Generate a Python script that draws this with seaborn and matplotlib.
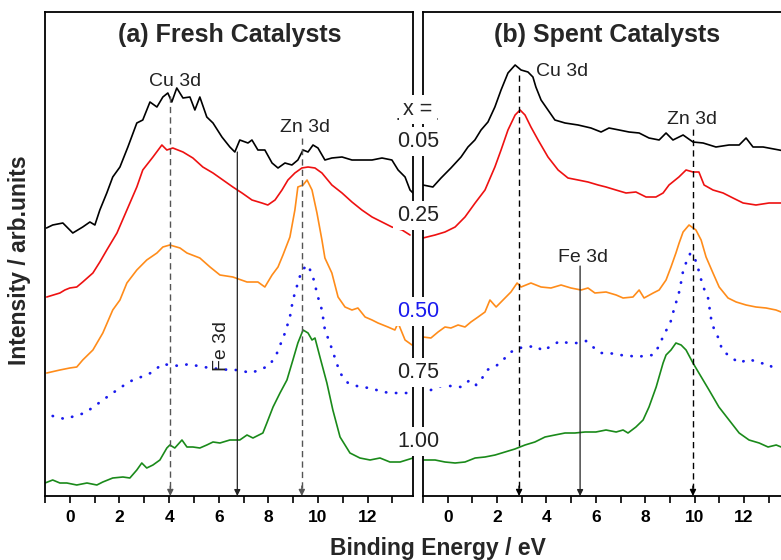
import matplotlib
matplotlib.use("Agg")
import matplotlib.pyplot as plt
from matplotlib.ticker import MultipleLocator
from matplotlib.lines import Line2D
import seaborn as sns

# composition x of each spectrum, top to bottom
comp_labels = ["0.05", "0.25", "0.50", "0.75", "1.00"]
comp_colors = ["black", "#ee1111", "#ff8c1a", "#1a1aee", "#1a8a1a"]

# (a) fresh catalysts: binding energy (eV) and stacked intensity (arb. units)
fresh_005_be = [-0.94, -0.69, -0.28, 0.12, 0.52, 0.81, 1.01, 1.21, 1.49, 1.73, 2.02, 2.34, 2.70, 2.94, 3.23,
                3.51, 3.75, 3.95, 4.11, 4.31, 4.56, 4.84, 5.04, 5.24, 5.52, 5.77, 6.13, 6.45, 6.65, 6.85, 7.18,
                7.34, 7.58, 7.86, 8.15, 8.39, 8.67, 8.95, 9.19, 9.40, 9.60, 9.80, 10.0, 10.28, 10.56, 10.97,
                11.37, 11.77, 12.18, 12.58, 12.98, 13.23, 13.51, 13.71, 13.83]
fresh_005_int = [268, 271, 273, 263, 269, 274, 271, 286, 303, 319, 329, 349, 373, 376, 394, 389, 399, 403, 394,
                 408, 398, 399, 386, 399, 379, 373, 359, 349, 344, 356, 353, 356, 346, 346, 333, 328, 333, 331,
                 336, 346, 344, 351, 348, 336, 338, 339, 336, 336, 336, 338, 336, 326, 319, 306, 303]

fresh_025_be = [-0.93, -0.40, -0.20, 0.0, 0.28, 0.52, 0.93, 1.21, 1.49, 1.90, 2.30, 2.70, 2.94, 3.35, 3.71,
                3.91, 4.15, 4.56, 4.96, 5.36, 5.77, 6.17, 6.57, 6.94, 7.34, 7.74, 7.98, 8.27, 8.55, 8.79, 9.07,
                9.35, 9.60, 9.88, 10.16, 10.56, 10.97, 11.37, 11.77, 12.18, 12.58, 12.98, 13.39, 13.71]
fresh_025_int = [199, 203, 206, 208, 209, 214, 223, 234, 246, 263, 286, 309, 326, 339, 351, 346, 348, 344, 338,
                 329, 323, 316, 309, 303, 296, 293, 291, 296, 306, 316, 323, 328, 329, 328, 323, 311, 303, 294,
                 286, 279, 274, 269, 266, 261]

fresh_050_be = [-0.93, -0.40, 0.0, 0.28, 0.52, 0.93, 1.33, 1.73, 2.02, 2.30, 2.70, 3.10, 3.51, 3.75, 4.03,
                4.44, 4.72, 5.24, 5.65, 6.05, 6.57, 7.14, 7.58, 7.86, 8.15, 8.39, 8.59, 8.87, 9.07, 9.19, 9.40,
                9.56, 9.76, 9.96, 10.16, 10.28, 10.56, 10.81, 11.09, 11.37, 11.61, 11.90, 12.18, 12.42, 12.82,
                13.10, 13.23, 13.51, 13.79]
fresh_050_int = [123, 126, 128, 129, 136, 146, 163, 186, 196, 213, 226, 236, 243, 249, 251, 248, 243, 238, 229,
                 221, 219, 214, 214, 209, 221, 229, 241, 259, 286, 309, 311, 316, 306, 283, 256, 238, 223, 199,
                 189, 186, 188, 179, 176, 173, 169, 166, 173, 156, 151]

fresh_075_be = [-0.69, -0.20, 0.20, 0.60, 1.01, 1.33, 1.73, 2.14, 2.54, 2.98, 3.35, 3.71, 4.03, 4.44, 4.80,
                5.16, 5.65, 6.05, 6.45, 6.85, 7.26, 7.66, 8.06, 8.35, 8.67, 8.87, 8.99, 9.19, 9.35, 9.60, 9.80,
                10.0, 10.16, 10.28, 10.48, 10.89, 11.21, 11.69, 12.10, 12.62, 12.98, 13.43, 13.79]
fresh_075_int = [80, 77, 80, 83, 90, 96, 103, 110, 116, 120, 124, 132, 131, 130, 132, 130, 128, 127, 126, 126,
                 123, 126, 131, 143, 163, 179, 196, 213, 226, 231, 219, 199, 186, 166, 153, 123, 113, 109, 108,
                 104, 103, 103, 103]

fresh_100_be = [-1.0, -0.69, -0.40, -0.12, 0.28, 0.69, 1.09, 1.33, 1.73, 2.14, 2.42, 2.70, 2.90, 3.10, 3.35,
                3.63, 3.91, 4.03, 4.23, 4.52, 4.72, 4.96, 5.24, 5.52, 5.77, 6.05, 6.45, 6.85, 7.14, 7.38, 7.78,
                7.94, 8.19, 8.47, 8.75, 8.99, 9.19, 9.40, 9.60, 9.76, 9.88, 10.08, 10.36, 10.60, 10.89, 11.29,
                11.69, 12.10, 12.50, 12.90, 13.31, 13.83]
fresh_100_int = [13, 16, 13, 13, 11, 13, 11, 14, 18, 19, 18, 26, 33, 28, 31, 36, 48, 51, 48, 56, 49, 49, 48, 51,
                 54, 53, 56, 56, 61, 58, 63, 73, 89, 103, 116, 136, 153, 166, 163, 156, 158, 139, 113, 86, 59,
                 43, 38, 36, 38, 34, 34, 38]

# (b) spent catalysts
spent_005_be = [-1.0, -0.60, -0.27, 0.13, 0.54, 0.82, 1.10, 1.35, 1.63, 1.91, 2.16, 2.44, 2.73, 2.97, 3.25,
                3.45, 3.57, 3.78, 4.06, 4.34, 4.75, 5.28, 5.80, 6.21, 6.53, 6.94, 7.34, 7.75, 8.15, 8.56, 8.84,
                9.12, 9.53, 9.93, 10.34, 10.86, 11.39, 11.80, 12.08, 12.36, 12.77, 13.42, 13.83]
spent_005_int = [311, 309, 318, 328, 339, 349, 356, 366, 374, 389, 406, 423, 431, 426, 424, 419, 409, 396, 386,
                 376, 373, 371, 368, 364, 368, 366, 364, 363, 358, 356, 363, 356, 361, 354, 353, 349, 351, 351,
                 358, 349, 349, 346, 344]

spent_025_be = [-1.0, -0.51, -0.11, 0.30, 0.70, 1.11, 1.51, 1.91, 2.16, 2.44, 2.73, 2.93, 3.13, 3.37, 3.66,
                4.06, 4.47, 4.87, 5.28, 5.68, 6.09, 6.41, 6.81, 7.22, 7.62, 8.03, 8.43, 8.72, 8.96, 9.36, 9.65,
                9.93, 10.17, 10.38, 10.74, 11.15, 11.55, 11.96, 12.48, 13.01, 13.50, 13.83]
spent_025_int = [258, 261, 264, 269, 279, 293, 306, 329, 346, 366, 381, 386, 381, 369, 356, 339, 326, 318, 316,
                 314, 311, 309, 306, 303, 304, 299, 299, 303, 311, 319, 326, 324, 324, 311, 306, 303, 298, 293,
                 291, 293, 293, 292]

spent_050_be = [-1.0, -0.68, -0.39, -0.11, 0.13, 0.42, 0.70, 0.94, 1.23, 1.51, 1.71, 1.96, 2.32, 2.56, 2.81,
                2.97, 3.37, 3.78, 4.18, 4.59, 4.99, 5.40, 5.68, 5.96, 6.41, 6.82, 7.10, 7.50, 7.75, 7.95, 8.32,
                8.56, 8.84, 9.04, 9.24, 9.37, 9.53, 9.77, 10.05, 10.26, 10.46, 10.74, 10.99, 11.35, 11.68, 12.08,
                12.48, 12.89, 13.29, 13.50, 13.83]
spent_050_int = [159, 158, 164, 169, 168, 171, 169, 174, 179, 184, 196, 189, 198, 204, 213, 209, 213, 209, 208,
                 211, 208, 206, 208, 203, 204, 201, 198, 199, 206, 198, 203, 206, 216, 229, 243, 253, 264, 271,
                 266, 256, 239, 223, 209, 198, 194, 191, 189, 188, 186, 184, 182]

spent_075_be = [-0.68, -0.27, 0.13, 0.54, 0.90, 1.15, 1.35, 1.59, 1.96, 2.28, 2.56, 2.89, 3.21, 3.57, 3.86,
                4.18, 4.55, 4.87, 5.23, 5.60, 5.88, 6.21, 6.53, 6.98, 7.42, 7.66, 7.91, 8.31, 8.56, 8.76, 9.00,
                9.12, 9.24, 9.37, 9.45, 9.53, 9.69, 9.81, 9.93, 10.09, 10.21, 10.33, 10.54, 10.66, 10.78, 10.98,
                11.11, 11.35, 11.80, 12.20, 12.61, 13.01, 13.33]
spent_075_int = [106, 110, 110, 109, 116, 111, 116, 126, 130, 137, 144, 148, 149, 150, 145, 150, 155, 153, 153,
                 155, 149, 143, 143, 141, 140, 139, 140, 141, 150, 162, 172, 183, 193, 204, 214, 225, 236, 242,
                 242, 232, 221, 210, 198, 178, 167, 157, 146, 141, 133, 137, 133, 132, 123]

spent_100_be = [-1.0, -0.51, -0.11, 0.30, 0.70, 1.11, 1.51, 1.92, 2.32, 2.72, 3.13, 3.53, 3.94, 4.34, 4.75,
                5.15, 5.56, 6.00, 6.41, 6.82, 7.10, 7.30, 7.62, 7.91, 8.15, 8.44, 8.72, 8.84, 9.04, 9.24, 9.45,
                9.65, 9.93, 10.17, 10.58, 10.98, 11.39, 11.80, 12.20, 12.61, 12.97, 13.30, 13.50, 13.83]
spent_100_int = [36, 36, 34, 33, 34, 38, 39, 41, 44, 47, 51, 54, 59, 61, 63, 63, 64, 64, 66, 64, 66, 63, 69, 76,
                 89, 109, 133, 141, 146, 153, 151, 146, 133, 123, 106, 89, 76, 63, 56, 53, 49, 51, 49, 50]

# peak markers: (position eV, top of arrow, label, label x, label y)
fresh_marks = [(4.05, 400, "Cu 3d", 4.23, 414), (9.35, 358, "Zn 3d", 9.48, 368)]
fresh_fe = (6.75, 344, 6.13, 150)
spent_marks = [(2.89, 421, "Cu 3d", 4.64, 424), (9.93, 367, "Zn 3d", 9.89, 376)]
spent_fe = (5.36, 230, 5.48, 238)

sns.set_theme(style="ticks")
plt.rcParams["font.family"] = ["Liberation Sans", "DejaVu Sans"]
plt.rcParams["lines.scale_dashes"] = False

fig = plt.figure(figsize=(7.81, 5.60), dpi=100)
ax_a = fig.add_axes([45 / 781, 64 / 560, 368 / 781, 484 / 560])
ax_b = fig.add_axes([423 / 781, 64 / 560, 366.3 / 781, 484 / 560])

fresh = [(fresh_005_be, fresh_005_int), (fresh_025_be, fresh_025_int), (fresh_050_be, fresh_050_int),
         (fresh_075_be, fresh_075_int), (fresh_100_be, fresh_100_int)]
spent = [(spent_005_be, spent_005_int), (spent_025_be, spent_025_int), (spent_050_be, spent_050_int),
         (spent_075_be, spent_075_int), (spent_100_be, spent_100_int)]


def draw_panel(ax, series, marks, fe, mark_color):
    for (be, inten), col, lab in zip(series, comp_colors, comp_labels):
        sns.lineplot(x=be, y=inten, ax=ax, color=col, sort=False, errorbar=None, lw=1.2)
        if lab == "0.75":
            # sparse dotted trace
            ln = ax.lines[-1]
            ln.set_linewidth(2.0)
            ln.set_linestyle((0, (0.2, 7.0)))
            ln.set_dash_capstyle("round")
    for pos, top, text, tx, ty in marks:
        ax.plot([pos, pos], [top, 8], color=mark_color, lw=1.0, dashes=(4.5, 3))
        ax.annotate("", xy=(pos, 0), xytext=(pos, 10),
                    arrowprops=dict(arrowstyle="-|>", color=mark_color, lw=1.0,
                                    mutation_scale=9, shrinkA=0, shrinkB=0))
        ax.text(tx, ty, text, ha="center", va="center", fontsize=14, color="#222222")
    pos, top, tx, ty = fe
    ax.annotate("", xy=(pos, 0), xytext=(pos, top),
                arrowprops=dict(arrowstyle="-|>", color="#222222", lw=0.9,
                                mutation_scale=9, shrinkA=0, shrinkB=0))


draw_panel(ax_a, fresh, fresh_marks, fresh_fe, "#555555")
ax_a.text(fresh_fe[2], fresh_fe[3], "Fe 3d", rotation=90, ha="center", va="center",
          fontsize=14, color="#222222")
draw_panel(ax_b, spent, spent_marks, spent_fe, "black")
ax_b.text(spent_fe[2], spent_fe[3], "Fe 3d", ha="center", va="center", fontsize=14, color="#222222")

for ax in (ax_a, ax_b):
    ax.set_xlim(-1.0, 13.83)
    ax.set_ylim(0, 484)
    ax.set_yticks([])
    ax.set_xticks(range(0, 14, 2))
    ax.xaxis.set_minor_locator(MultipleLocator(1))
    ax.tick_params(axis="x", which="both", direction="out", length=5, width=1.2,
                   colors="black", pad=5, labelsize=12.5)
    for t in ax.get_xticklabels():
        t.set_fontweight("bold")
    for sp in ax.spines.values():
        sp.set_visible(True)
        sp.set_linewidth(1.3)
        sp.set_color("black")
    ax.set_xlabel("")
    ax.set_ylabel("")

# composition labels sitting in the gap between the panels
fig.text(418 / 781, 1 - 115 / 560, "x =", ha="center", va="baseline", fontsize=15.5,
         bbox=dict(facecolor="white", edgecolor="none", pad=3))
fig.add_artist(Line2D([398 / 781, 437 / 781], [1 - 119 / 560, 1 - 119 / 560], color="black", lw=1.2))
label_base = [147, 221, 317, 378, 447]
for lab, yb in zip(comp_labels, label_base):
    fig.text(418 / 781, 1 - yb / 560, lab, ha="center", va="baseline", fontsize=15.5,
             color="#1a1aee" if lab == "0.50" else "#222222",
             bbox=dict(facecolor="white", edgecolor="none", pad=3))

fig.text(230 / 781, 1 - 35 / 560, "(a) Fresh Catalysts", ha="center", va="center",
         fontsize=18, fontweight="bold")
fig.text(607 / 781, 1 - 35 / 560, "(b) Spent Catalysts", ha="center", va="center",
         fontsize=18, fontweight="bold")
fig.text(438 / 781, 1 - 548 / 560, "Binding Energy / eV", ha="center", va="center",
         fontsize=16.5, fontweight="bold")
fig.text(20 / 781, 1 - 260 / 560, "Intensity / arb.units", ha="center", va="center",
         rotation=90, fontsize=16.5, fontweight="bold")

fig.savefig("out.png", dpi=100)
